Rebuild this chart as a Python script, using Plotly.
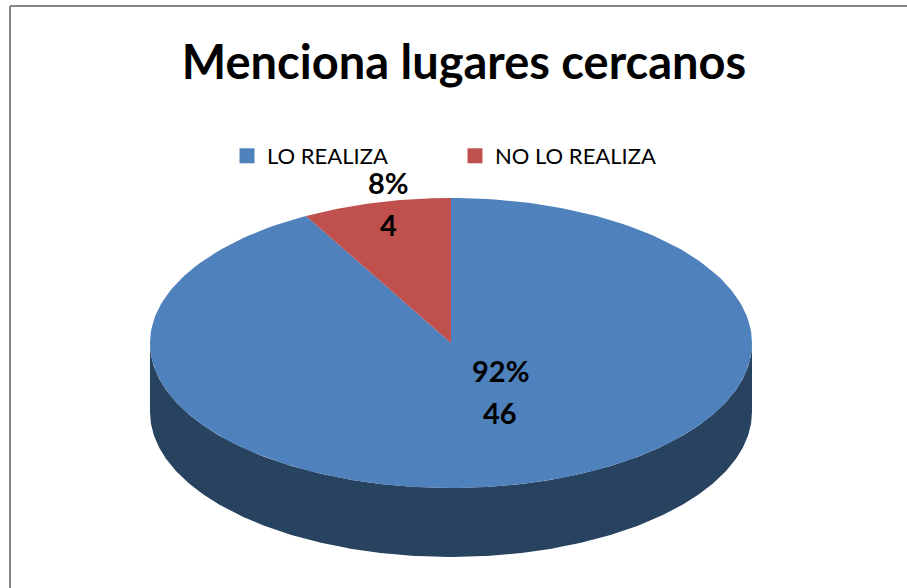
import numpy as np
import plotly.graph_objects as go

categories = ["LO REALIZA", "NO LO REALIZA"]
values = [46, 4]
percent_labels = ["92%", "8%"]
colors = ["#4F81BD", "#C0504D"]
side_color = "#284360"
title = "Menciona lugares cercanos"

# pie geometry, in the pixel-sized plotting frame
CX, CY, RX, RY, DEPTH = 451, 343, 301, 145, 69
total = sum(values)
W, H = 907, 588


def wedge(start, end):
    t = np.radians(np.linspace(start, end, 240))
    return (np.r_[CX, CX + RX * np.sin(t), CX].tolist(),
            np.r_[CY, CY - RY * np.cos(t), CY].tolist())


fig = go.Figure()

# extruded side of the disc
t = np.radians(np.linspace(90, 270, 300))
sx = CX + RX * np.sin(t)
sy = CY - RY * np.cos(t)
fig.add_trace(go.Scatter(x=np.r_[sx, sx[::-1]].tolist(),
                         y=np.r_[sy + DEPTH, sy[::-1]].tolist(),
                         mode="lines", fill="toself", fillcolor=side_color,
                         line=dict(width=0), showlegend=False, hoverinfo="skip"))

# slices: first starts at 12 o'clock going clockwise
start = 0.0
for name, val, col in zip(categories, values, colors):
    end = start + 360.0 * val / total
    x, y = wedge(start, end)
    fig.add_trace(go.Scatter(x=x, y=y, mode="lines", fill="toself", fillcolor=col,
                             line=dict(width=0), showlegend=False, name=name))
    start = end

# legend entries
for name, col in zip(categories, colors):
    fig.add_trace(go.Scatter(x=[None], y=[None], mode="markers", name=name,
                             marker=dict(symbol="square", size=15, color=col)))

label_pos = [(500, 370, 412), (388, 182, 224)]
for (lx, y1, y2), pct, val in zip(label_pos, percent_labels, values):
    for yy, txt in ((y1, pct), (y2, str(val))):
        fig.add_annotation(x=lx, y=yy, text=f"<b>{txt}</b>", showarrow=False,
                           font=dict(family="Lato", size=29, color="black"))

fig.add_shape(type="line", x0=10, x1=10, y0=6, y1=588, line=dict(color="#868686", width=2))
fig.add_shape(type="line", x0=10, x1=907, y0=6, y1=6, line=dict(color="#868686", width=2))

fig.update_layout(
    width=W, height=H, margin=dict(l=0, r=0, t=0, b=0),
    paper_bgcolor="white", plot_bgcolor="white",
    xaxis=dict(range=[0, W], visible=False, fixedrange=True),
    yaxis=dict(range=[H, 0], visible=False, fixedrange=True),
    title=dict(text=f"<b>{title}</b>", x=464 / W, xanchor="center",
               y=1 - 63 / H,
               yanchor="middle", font=dict(family="Lato", size=47, color="black")),
    legend=dict(orientation="h", x=227 / W, xanchor="left",
                y=1 - 156 / H, yanchor="middle",
                font=dict(family="Lato", size=22, color="black"),
                entrywidth=183, entrywidthmode="pixels", bgcolor="rgba(0,0,0,0)",
                itemclick=False, itemdoubleclick=False),
)
fig.write_html("out.html", config={"displayModeBar": False},
               post_script="document.body.style.margin='0';document.documentElement.style.overflow='hidden';")
